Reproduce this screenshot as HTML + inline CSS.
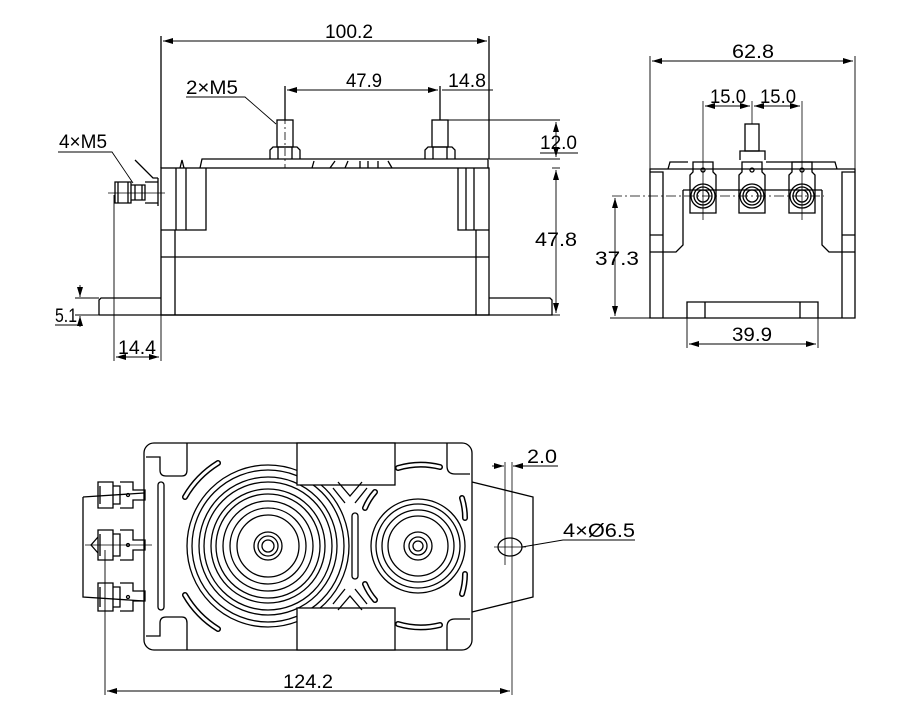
<!DOCTYPE html>
<html><head><meta charset="utf-8"><style>
html,body{margin:0;padding:0;background:#fff;}
svg{display:block;}
text{font-family:"Liberation Sans",sans-serif;font-size:19px;fill:#000;}
</style></head><body>
<svg width="915" height="715" viewBox="0 0 915 715" xmlns="http://www.w3.org/2000/svg">
<defs>
<marker id="a" viewBox="0 0 10 6" refX="10" refY="3" markerWidth="10" markerHeight="6" orient="auto-start-reverse" markerUnits="userSpaceOnUse"><path d="M0,0L10,3L0,6z" fill="#000"/></marker>
</defs>
<g fill="none" stroke="#000" stroke-width="1.3">
<!-- FRONT VIEW -->
<rect x="161" y="168" width="328" height="147"/>
<line x1="175" y1="230" x2="175" y2="315"/><line x1="476" y1="230" x2="476" y2="315"/>
<line x1="161" y1="257" x2="489" y2="257"/>
<path d="M161,230 H206 V168 M176,230 V168 M186,168 V230"/>
<path d="M489,230 H458 V168 M474,230 V168 M466,168 V230"/>
<path d="M99,315 V300 L101,298 H161 M489,298 H550 L552,300 V315 H99"/>
<path d="M200,168 L202,159 H488 V168"/>
<path d="M180,168 L182,160 L184,168"/>
<path d="M312,168 L314,161 M330,168 L335,161 M345,168 L348,161 M360,161 V168 M368,161 V168 M378,161 V168 M392,168 L388,161"/>
<rect x="277" y="120" width="16" height="27"/><path d="M270,159 V150 L273,147 H297 L300,150 V159 M278,147 V159 M292,147 V159"/>
<rect x="432" y="120" width="16" height="27"/><path d="M425,159 V150 L428,147 H452 L455,150 V159 M433,147 V159 M447,147 V159"/>
<line x1="285" y1="116" x2="285" y2="168" stroke-dasharray="8,3,2,3" stroke-width="0.8"/>
<path d="M115,182 H131 V203 H115 Z M118,182 V203 M128,182 V203 M131,185 H145 V200 H131 M135,185 V200 M142,185 V200 M145,182 H158 V203 H145 M158,178 V206"/>
<path d="M135,160 L153,178 L158,178"/>
<line x1="108" y1="193" x2="165" y2="193" stroke-width="0.8"/>
<line x1="161" y1="168" x2="161" y2="36"/><line x1="489" y1="159" x2="489" y2="36"/>
<line x1="163" y1="41" x2="487" y2="41" marker-start="url(#a)" marker-end="url(#a)" stroke-width="0.9"/>
<line x1="285" y1="120" x2="285" y2="86"/><line x1="440" y1="120" x2="440" y2="86"/>
<line x1="287" y1="90" x2="438" y2="90" marker-start="url(#a)" marker-end="url(#a)" stroke-width="0.9"/>
<line x1="442" y1="90" x2="493" y2="90" stroke-width="0.9"/>
<path d="M186,97 H245 L276,124" stroke-width="0.9"/>
<line x1="448" y1="120" x2="560" y2="120" stroke-width="0.9"/><line x1="489" y1="159" x2="560" y2="159" stroke-width="0.9"/>
<line x1="556" y1="122" x2="556" y2="157" marker-start="url(#a)" marker-end="url(#a)" stroke-width="0.9"/>
<line x1="540" y1="153" x2="578" y2="153" stroke-width="0.9"/>
<line x1="552" y1="168" x2="560" y2="168" stroke-width="0.9"/>
<line x1="556" y1="170" x2="556" y2="313" marker-start="url(#a)" marker-end="url(#a)" stroke-width="0.9"/>
<line x1="552" y1="315" x2="560" y2="315" stroke-width="0.9"/>
<path d="M58,152 H112 L133,183" stroke-width="0.9"/>
<line x1="75" y1="298" x2="99" y2="298" stroke-width="0.9"/><line x1="75" y1="315" x2="99" y2="315" stroke-width="0.9"/>
<line x1="80" y1="285" x2="80" y2="297" marker-end="url(#a)" stroke-width="0.9"/>
<line x1="80" y1="327" x2="80" y2="316" marker-end="url(#a)" stroke-width="0.9"/>
<line x1="55" y1="325" x2="82" y2="325" stroke-width="0.9"/>
<line x1="114" y1="195" x2="114" y2="361" stroke-width="0.9"/><line x1="161" y1="315" x2="161" y2="361" stroke-width="0.9"/>
<line x1="116" y1="357" x2="159" y2="357" marker-start="url(#a)" marker-end="url(#a)" stroke-width="0.9"/>

<!-- SIDE VIEW -->
<path d="M650,318 V169 H855 V318 Z"/>
<path d="M663,318 V235 H650 M663,235 V172 H650 M842,318 V235 H855 M842,235 V172 H855"/>
<path d="M683,190 V245 L676,252 H650 M822,190 V245 L829,252 H855"/>
<path d="M683,190 H822"/>
<path d="M687,318 V302 H818 V318 M705,302 V318 M800,302 V318"/>
<path d="M668,169 L670,162 H688 M766,162 H835 L837,169"/>
<rect x="745" y="124" width="14" height="27"/><path d="M740,160 V151 H765 V160"/>
<path d="M690,213 V175 L693,172 V162 H713 V172 L716,175 V213 Z"/>
<path d="M739,213 V175 L742,172 V162 H762 V172 L765,175 V213 Z"/>
<path d="M789,213 V175 L792,172 V162 H812 V172 L815,175 V213 Z"/>
<circle cx="703" cy="196" r="12"/><circle cx="703" cy="196" r="9"/><circle cx="703" cy="196" r="6"/>
<circle cx="752" cy="196" r="12"/><circle cx="752" cy="196" r="9"/><circle cx="752" cy="196" r="6"/>
<circle cx="802" cy="196" r="12"/><circle cx="802" cy="196" r="9"/><circle cx="802" cy="196" r="6"/>
<circle cx="703" cy="170" r="2"/><circle cx="752" cy="170" r="2"/><circle cx="802" cy="170" r="2"/>
<line x1="612" y1="196" x2="824" y2="196" stroke-width="0.8" stroke-dasharray="10,3,2,3"/>
<line x1="650" y1="169" x2="650" y2="56" stroke-width="0.9"/><line x1="855" y1="169" x2="855" y2="56" stroke-width="0.9"/>
<line x1="652" y1="61" x2="853" y2="61" marker-start="url(#a)" marker-end="url(#a)" stroke-width="0.9"/>
<line x1="703" y1="220" x2="703" y2="101" stroke-width="0.8"/><line x1="752" y1="124" x2="752" y2="101" stroke-width="0.8"/><line x1="802" y1="220" x2="802" y2="101" stroke-width="0.8"/>
<line x1="705" y1="106" x2="750" y2="106" marker-start="url(#a)" marker-end="url(#a)" stroke-width="0.9"/>
<line x1="754" y1="106" x2="800" y2="106" marker-start="url(#a)" marker-end="url(#a)" stroke-width="0.9"/>
<line x1="610" y1="318" x2="650" y2="318" stroke-width="0.9"/>
<line x1="615" y1="198" x2="615" y2="316" marker-start="url(#a)" marker-end="url(#a)" stroke-width="0.9"/>
<line x1="687" y1="318" x2="687" y2="348" stroke-width="0.9"/><line x1="818" y1="318" x2="818" y2="348" stroke-width="0.9"/>
<line x1="689" y1="344" x2="816" y2="344" marker-start="url(#a)" marker-end="url(#a)" stroke-width="0.9"/>

<!-- BOTTOM VIEW -->
<rect x="144" y="443" width="328" height="207" rx="10"/>
<path d="M83,497 L144,493 M83,497 V597 L144,601"/>
<path d="M472,482 L533,497 V597 L472,612"/>
<path d="M146,457 H160 V470 Q160,476 166,476 H182 Q187,476 187,470 V443"/>
<path d="M146,636 H160 V623 Q160,617 166,617 H182 Q187,617 187,623 V650"/>
<path d="M470,474 H455 Q447,474 447,466 V443"/>
<path d="M470,619 H455 Q447,619 447,627 V650"/>
<rect x="158" y="482" width="6" height="128" rx="3"/>
<rect x="352" y="513" width="6" height="66" rx="3"/>
<circle cx="268" cy="546" r="81"/><circle cx="268" cy="546" r="76"/>
<circle cx="268" cy="546" r="69"/><circle cx="268" cy="546" r="64"/>
<circle cx="268" cy="546" r="57"/><circle cx="268" cy="546" r="52"/>
<circle cx="268" cy="546" r="45"/><circle cx="268" cy="546" r="38"/>
<circle cx="268" cy="546" r="31"/>
<circle cx="268" cy="546" r="14"/><circle cx="268" cy="546" r="10"/><circle cx="268" cy="546" r="6"/>
<circle cx="418" cy="546" r="47"/><circle cx="418" cy="546" r="42"/>
<circle cx="418" cy="546" r="36"/><circle cx="418" cy="546" r="30"/>
<circle cx="418" cy="546" r="14"/><circle cx="418" cy="546" r="9"/><circle cx="418" cy="546" r="5"/>
<g stroke-width="6" stroke-linecap="round">
<path d="M185,497 A97,97 0 0 1 218,463 M185,595 A97,97 0 0 0 218,629"/>
<path d="M398,468 A80,80 0 0 1 440,467 M398,624 A80,80 0 0 0 440,625 M462,498 A67,67 0 0 1 465,518 M462,594 A67,67 0 0 0 465,574 M365,508 A58,58 0 0 1 375,492 M365,584 A58,58 0 0 0 375,600"/>
</g>
<g stroke="#fff" stroke-width="3" stroke-linecap="round">
<path d="M185,497 A97,97 0 0 1 218,463 M185,595 A97,97 0 0 0 218,629"/>
<path d="M398,468 A80,80 0 0 1 440,467 M398,624 A80,80 0 0 0 440,625 M462,498 A67,67 0 0 1 465,518 M462,594 A67,67 0 0 0 465,574 M365,508 A58,58 0 0 1 375,492 M365,584 A58,58 0 0 0 375,600"/>
</g>
<rect x="297" y="443" width="98" height="42" fill="#fff"/><rect x="297" y="608" width="98" height="42" fill="#fff"/>
<path d="M338,482 L350,496 L362,482 M333,488 L345,503 M367,488 L355,503 M338,610 L350,596 L362,610 M333,604 L345,589 M367,604 L355,589"/>
<path d="M98,482 H113 V508 H98 Z M100,486 V504 M113,486 H120 V504 H113 M120,482 H133 V490 H145 V500 H133 V508 H120"/>
<path d="M98,530 H113 V560 H98 Z M100,534 V556 M113,534 H120 V556 H113 M120,530 H133 V540 H145 V550 H133 V560 H120"/>
<path d="M98,583 H113 V611 H98 Z M100,587 V607 M113,587 H120 V607 H113 M120,583 H133 V591 H145 V601 H133 V611 H120"/>
<path d="M98,537 L91,545 L98,553"/>
<circle cx="128" cy="495" r="1.5"/><circle cx="128" cy="545" r="1.5"/><circle cx="128" cy="597" r="1.5"/>
<line x1="85" y1="545" x2="152" y2="545" stroke-width="0.8"/>
<ellipse cx="510" cy="547" rx="12" ry="9"/>
<line x1="494" y1="547" x2="526" y2="547" stroke-width="0.8"/>
<line x1="505" y1="462" x2="505" y2="565" stroke-width="0.8"/><line x1="512" y1="462" x2="512" y2="695" stroke-width="0.8"/>
<line x1="492" y1="466" x2="504" y2="466" marker-end="url(#a)" stroke-width="0.9"/>
<line x1="525" y1="466" x2="513" y2="466" marker-end="url(#a)" stroke-width="0.9"/>
<line x1="513" y1="466" x2="558" y2="466" stroke-width="0.9"/>
<path d="M635,540 H563 L522,547" stroke-width="0.9"/>
<line x1="105" y1="550" x2="105" y2="695" stroke-width="0.9"/>
<line x1="107" y1="691" x2="510" y2="691" marker-start="url(#a)" marker-end="url(#a)" stroke-width="0.9"/>
</g>
<g>
<text x="325" y="38" textLength="48" lengthAdjust="spacingAndGlyphs">100.2</text>
<text x="346" y="87" textLength="36" lengthAdjust="spacingAndGlyphs">47.9</text>
<text x="448" y="87" textLength="38" lengthAdjust="spacingAndGlyphs">14.8</text>
<text x="186" y="94" textLength="52" lengthAdjust="spacingAndGlyphs">2×M5</text>
<text x="59" y="148" textLength="48" lengthAdjust="spacingAndGlyphs">4×M5</text>
<text x="540" y="149" textLength="37" lengthAdjust="spacingAndGlyphs">12.0</text>
<text x="535" y="246" textLength="42" lengthAdjust="spacingAndGlyphs">47.8</text>
<text x="55" y="322" textLength="22" lengthAdjust="spacingAndGlyphs">5.1</text>
<text x="118" y="354" textLength="38" lengthAdjust="spacingAndGlyphs">14.4</text>
<text x="732" y="58" textLength="42" lengthAdjust="spacingAndGlyphs">62.8</text>
<text x="710" y="103" textLength="36" lengthAdjust="spacingAndGlyphs">15.0</text>
<text x="760" y="103" textLength="36" lengthAdjust="spacingAndGlyphs">15.0</text>
<text x="595" y="265" textLength="44" lengthAdjust="spacingAndGlyphs">37.3</text>
<text x="732" y="341" textLength="40" lengthAdjust="spacingAndGlyphs">39.9</text>
<text x="527" y="463" textLength="30" lengthAdjust="spacingAndGlyphs">2.0</text>
<text x="563" y="537" textLength="72" lengthAdjust="spacingAndGlyphs">4×Ø6.5</text>
<text x="283" y="688" textLength="50" lengthAdjust="spacingAndGlyphs">124.2</text>
</g>
</svg>
</body></html>
